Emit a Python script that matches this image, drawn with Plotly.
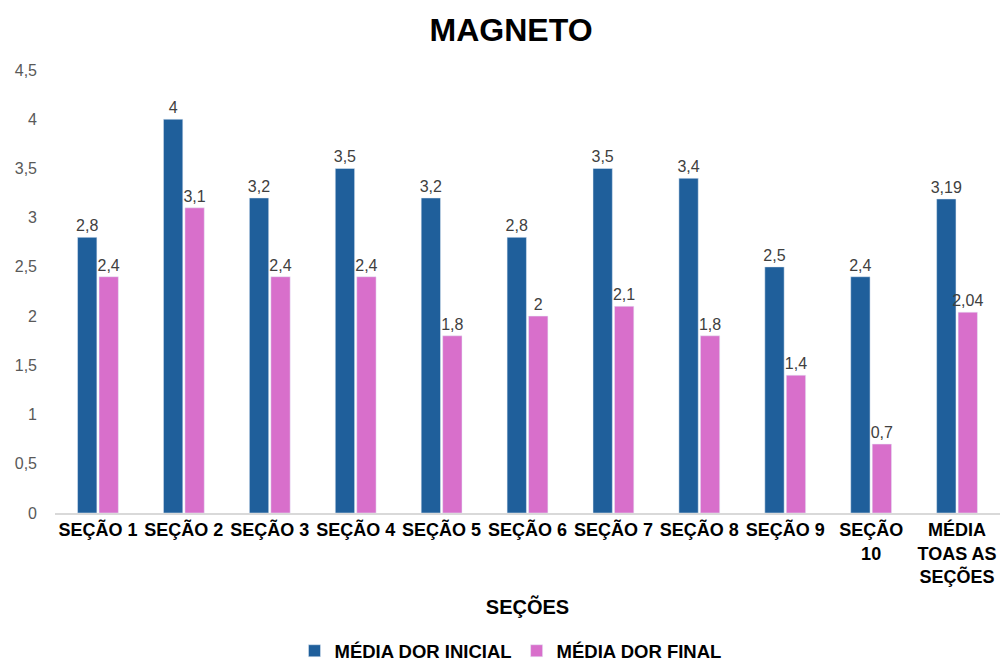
import plotly.graph_objects as go

categories = ["SEÇÃO 1", "SEÇÃO 2", "SEÇÃO 3", "SEÇÃO 4", "SEÇÃO 5", "SEÇÃO 6",
              "SEÇÃO 7", "SEÇÃO 8", "SEÇÃO 9", "SEÇÃO<br>10", "MÉDIA<br>TOAS AS<br>SEÇÕES"]
inicial = [2.8, 4, 3.2, 3.5, 3.2, 2.8, 3.5, 3.4, 2.5, 2.4, 3.19]
final = [2.4, 3.1, 2.4, 2.4, 1.8, 2, 2.1, 1.8, 1.4, 0.7, 2.04]
y_ticks = [0, 0.5, 1, 1.5, 2, 2.5, 3, 3.5, 4, 4.5]


def fmt(v):
    return f"{v:g}".replace(".", ",")


FONT = "Liberation Sans, Arial, sans-serif"
label_font = dict(family=FONT, size=16, color="#404040")

fig = go.Figure()
fig.add_trace(go.Bar(x=categories, y=inicial, name="<b>MÉDIA DOR INICIAL</b>",
                     marker_color="#1F5F9B", text=[fmt(v) for v in inicial],
                     textposition="outside", textfont=label_font, cliponaxis=False,
                     constraintext="none"))
fig.add_trace(go.Bar(x=categories, y=final, name="<b>MÉDIA DOR FINAL</b>",
                     marker_color="#D86FCB", text=[fmt(v) for v in final],
                     textposition="outside", textfont=label_font, cliponaxis=False,
                     constraintext="none"))

fig.update_layout(
    width=1004, height=664,
    margin=dict(l=55, r=4, t=70, b=151, autoexpand=False),
    paper_bgcolor="white", plot_bgcolor="white",
    separators=",.",
    barmode="group", bargap=0.5, bargroupgap=0.1,
    font=dict(family=FONT),
    title=dict(text="<b>MAGNETO</b>", font=dict(family=FONT, size=32, color="black"),
               x=0.509, xref="container", xanchor="center", y=0.955, yanchor="middle"),
    showlegend=True,
    legend=dict(orientation="h", x=0.482, xanchor="center", y=-0.312, yanchor="middle",
                font=dict(family=FONT, size=18.5, color="black"),
                traceorder="normal", itemwidth=30, tracegroupgap=0,
                borderwidth=0),
)
fig.update_yaxes(range=[0, 4.5], tickvals=y_ticks, ticktext=[fmt(v) for v in y_ticks],
                 showgrid=False, zeroline=False, showline=False, automargin=False,
                 tickfont=dict(family=FONT, size=16, color="#595959"),
                 ticklabelstandoff=17)
fig.update_xaxes(showline=True, linecolor="#D9D9D9", linewidth=1.5, automargin=False,
                 tickangle=0,
                 tickfont=dict(family=FONT, size=18, color="black"),
                 tickprefix="<b>", ticksuffix="</b>",
                 title=dict(text="<b>SEÇÕES</b>", font=dict(family=FONT, size=20, color="black"),
                            standoff=14))

fig.write_html("out.html")
